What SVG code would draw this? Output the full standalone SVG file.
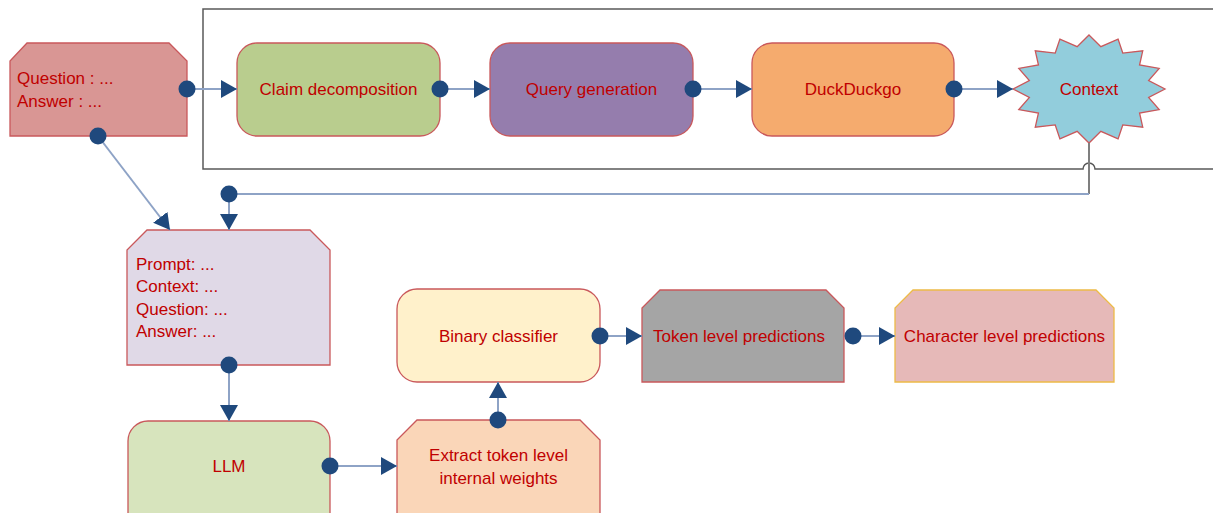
<svg xmlns="http://www.w3.org/2000/svg" width="1213" height="513" viewBox="0 0 1213 513">
  <defs>
    <style>
      .lbl { font-family: "Liberation Sans", Arial, sans-serif; font-size: 17px; fill: #C00000; }
      .mid { text-anchor: middle; }
      .edge { stroke: #C9585B; stroke-width: 1.3; }
      .wire { fill: none; stroke: #8EA3C6; stroke-width: 2; }
      .flow { fill: none; stroke: #8EA3C6; stroke-width: 2; marker-start: url(#dot); marker-end: url(#tri); }
    </style>
    <marker id="tri" markerUnits="userSpaceOnUse" markerWidth="17" markerHeight="19" refX="16" refY="9" orient="auto" viewBox="0 0 17 19">
      <path d="M0,0 L16,9 L0,18 Z" fill="#1F497D"/>
    </marker>
    <marker id="dot" markerUnits="userSpaceOnUse" markerWidth="18" markerHeight="18" refX="9" refY="9" viewBox="0 0 18 18">
      <circle cx="9" cy="9" r="8.5" fill="#1F497D"/>
    </marker>
  </defs>

  <rect width="1213" height="513" fill="#FFFFFF"/>

  <!-- retrieval stage frame, bottom edge hops over the context line -->
  <path id="frame" d="M1220,9 H203 V169 H1083 A6,6 0 0 1 1095,169 H1220" fill="none" stroke="#595959" stroke-width="1.5"/>

  <g id="qa">
    <path class="edge" d="M27,43 H169 L187,61 V136 H10 V61 Z" fill="#D99694"/>
    <text class="lbl" x="17" y="84">Question : ...</text>
    <text class="lbl" x="17" y="107">Answer : ...</text>
  </g>

  <g id="claim">
    <rect class="edge" x="237" y="43" width="203" height="93" rx="20" fill="#B9CD8E"/>
    <text class="lbl mid" x="338.5" y="95">Claim decomposition</text>
  </g>

  <g id="query">
    <rect class="edge" x="490" y="43" width="203" height="93" rx="20" fill="#957DAD"/>
    <text class="lbl mid" x="591.5" y="95">Query generation</text>
  </g>

  <g id="search">
    <rect class="edge" x="752" y="43" width="202" height="93" rx="20" fill="#F5AB6E"/>
    <text class="lbl mid" x="853" y="95">DuckDuckgo</text>
  </g>

  <g id="context">
    <path class="edge" fill="#92CDDC" d="M1089,35 L1100.86,46.63 L1118.08,39.11 L1122.78,53.08 L1142.74,50.82 L1139.55,65 L1159.21,68.34 L1148.63,80.57 L1165,89 L1148.63,97.43 L1159.21,109.66 L1139.55,113 L1142.74,127.18 L1122.78,124.92 L1118.08,138.89 L1100.86,131.37 L1089,143 L1077.14,131.37 L1059.92,138.89 L1055.22,124.92 L1035.26,127.18 L1038.45,113 L1018.79,109.66 L1029.37,97.43 L1013,89 L1029.37,80.57 L1018.79,68.34 L1038.45,65 L1035.26,50.82 L1055.22,53.08 L1059.92,39.11 L1077.14,46.63 Z"/>
    <text class="lbl mid" x="1089" y="95">Context</text>
  </g>

  <g id="prompt">
    <path class="edge" d="M147,230 H310 L330,250 V365 H127 V250 Z" fill="#E0D9E7"/>
    <text class="lbl" x="136" y="270">Prompt: ...</text>
    <text class="lbl" x="136" y="292">Context: ...</text>
    <text class="lbl" x="136" y="315">Question: ...</text>
    <text class="lbl" x="136" y="337">Answer: ...</text>
  </g>

  <g id="llm">
    <rect class="edge" x="128" y="421" width="202" height="115" rx="20" fill="#D7E4BD"/>
    <text class="lbl mid" x="229" y="472">LLM</text>
  </g>

  <g id="extract">
    <path class="edge" d="M417,420 H580 L600,440 V530 H397 V440 Z" fill="#FAD6B8"/>
    <text class="lbl mid" x="498.5" y="461">Extract token level</text>
    <text class="lbl mid" x="498.5" y="484">internal weights</text>
  </g>

  <g id="classifier">
    <rect class="edge" x="397" y="289" width="203" height="93" rx="20" fill="#FFF1CB"/>
    <text class="lbl mid" x="498.5" y="342">Binary classifier</text>
  </g>

  <g id="token">
    <path class="edge" d="M660,290 H826 L844,308 V382 H642 V308 Z" fill="#A5A5A5"/>
    <text class="lbl mid" x="739" y="342">Token level predictions</text>
  </g>

  <g id="character">
    <path d="M913,290 H1096 L1114,308 V382 H895 V308 Z" fill="#E6B9B8" stroke="#EDBB47" stroke-width="1.3"/>
    <text class="lbl mid" x="1004.5" y="342">Character level predictions</text>
  </g>

  <!-- connectors, drawn last so their end dots sit on top of the nodes -->
  <g id="connectors">
    <path class="flow" d="M187,89 H237"/>
    <path class="flow" d="M440,89 H490"/>
    <path class="flow" d="M693,89 H752"/>
    <path class="flow" d="M954,89 H1013"/>
    <path class="flow" d="M98,136 L170,230"/>
    <path d="M1089,143 V194" fill="none" stroke="#7F7F7F" stroke-width="2"/>
    <path class="wire" d="M1089,194 H229"/>
    <path class="flow" d="M229,194 V230"/>
    <path class="flow" d="M229,365 V421"/>
    <path class="flow" d="M330,466 H397"/>
    <path class="flow" d="M498,420 V382"/>
    <path class="flow" d="M600,336 H642"/>
    <path class="flow" d="M853,336 H895"/>
  </g>
</svg>
